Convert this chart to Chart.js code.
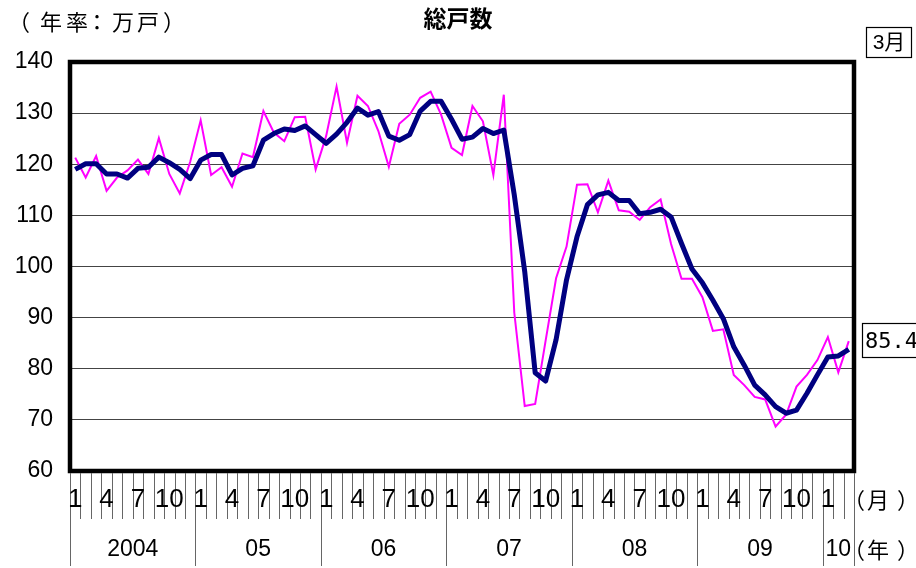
<!DOCTYPE html>
<html>
<head>
<meta charset="utf-8">
<script src="https://cdn.jsdelivr.net/npm/chart.js@4"></script>
<style>
  html, body { margin: 0; padding: 0; background: #fff; }
  #wrap { width: 916px; height: 568px; }
</style>
</head>
<body>
<div id="wrap"><canvas id="housingChart" width="916" height="568"></canvas></div>
<script>
// 月ごとの総戸数（年率：万戸） 2004年1月〜2010年3月
const months = [];
const years = ['2004', '05', '06', '07', '08', '09', '10'];
const monthLabels = ['1', '4', '7', '10'];

// 単月（マゼンタ）
const monthly2004 = [121.3, 117.4, 121.6, 114.8, 117.4, 118.8, 120.9, 118.1, 125.1, 118.1, 114.3, 120.5];
const monthly2005 = [128.6, 117.9, 119.4, 115.6, 122.1, 121.4, 130.4, 126.2, 124.5, 129.2, 129.3, 119.0];
const monthly2006 = [125.5, 135.2, 124.2, 133.4, 131.4, 126.5, 119.5, 127.9, 129.7, 133.0, 134.2, 129.7];
const monthly2007 = [123.2, 121.8, 131.4, 128.4, 117.9, 133.6, 91.0, 72.7, 73.1, 85.5, 97.7, 103.9];
const monthly2008 = [116.0, 116.1, 110.6, 116.8, 111.0, 110.7, 109.1, 111.6, 113.1, 104.4, 97.6, 97.6];
const monthly2009 = [94.0, 87.4, 87.7, 78.8, 76.8, 74.5, 74.0, 68.7, 71.0, 76.5, 78.8, 81.7];
const monthly2010 = [86.2, 79.3, 85.4];

// 3ヶ月移動平均（紺）
const average2004 = [119.0, 120.1, 120.1, 118.1, 118.1, 117.3, 119.2, 119.4, 121.4, 120.3, 119.0, 117.2];
const average2005 = [120.8, 121.9, 121.9, 117.9, 119.2, 119.7, 124.7, 126.0, 126.9, 126.6, 127.5, 125.8];
const average2006 = [124.1, 125.9, 128.2, 131.0, 129.6, 130.3, 125.5, 124.7, 125.8, 130.4, 132.3, 132.3];
const average2007 = [128.8, 124.9, 125.3, 127.0, 126.0, 126.7, 114.0, 99.0, 79.2, 77.6, 85.7, 97.4];
const average2008 = [105.8, 112.1, 114.0, 114.5, 112.9, 112.9, 110.3, 110.6, 111.2, 109.7, 104.5, 99.5];
const average2009 = [96.8, 93.4, 89.8, 84.3, 80.7, 76.8, 74.9, 72.6, 71.3, 71.9, 75.2, 78.8];
const average2010 = [82.3, 82.5, 83.8];

const monthlyValues = [].concat(monthly2004, monthly2005, monthly2006, monthly2007, monthly2008, monthly2009, monthly2010);
const averageValues = [].concat(average2004, average2005, average2006, average2007, average2008, average2009, average2010);

years.forEach((y, yi) => {
    const count = yi === years.length - 1 ? 3 : 12;
    for (let m = 1; m <= count; m++) months.push(y + '/' + m);
});

const lastLabel = '85.4';

// 全角文字を1字ずつ置く
function drawChars(ctx, chars, xs, y) {
    chars.split('').forEach((c, i) => ctx.fillText(c, xs[i], y));
}

// 下の月・年の目盛りと文字
const axisDecor = {
    id: 'axisDecor',
    afterDraw(chart) {
        const ctx = chart.ctx;
        const area = chart.chartArea;
        const x = chart.scales.x;
        const y = chart.scales.y;
        const step = x.getPixelForValue(1) - x.getPixelForValue(0);
        ctx.save();

        // 枠
        ctx.strokeStyle = '#000';
        ctx.lineWidth = 4.5;
        ctx.strokeRect(area.left, area.top, area.right - area.left, area.bottom - area.top);

        // 月の目盛り線
        ctx.strokeStyle = '#666';
        ctx.lineWidth = 1;
        for (let k = 0; k <= months.length; k++) {
            const px = Math.round(x.getPixelForValue(0) - step / 2 + k * step) + 0.5;
            const isYear = k % 12 === 0 || k === months.length;
            ctx.beginPath();
            ctx.moveTo(px, area.bottom + 2);
            ctx.lineTo(px, isYear ? 566 : 519);
            ctx.stroke();
        }

        // 月ラベル
        ctx.fillStyle = '#000';
        ctx.textAlign = 'center';
        ctx.textBaseline = 'middle';
        ctx.font = '26px "Liberation Sans Narrow", "Liberation Sans", Arial, sans-serif';
        months.forEach((lab, i) => {
            const m = lab.split('/')[1];
            if (monthLabels.includes(m)) ctx.fillText(m, x.getPixelForValue(i), 500);
        });

        // 年ラベル
        ctx.font = '23px "Liberation Sans", Arial, sans-serif';
        years.forEach((yr, yi) => {
            const first = yi * 12;
            const last = Math.min(first + 11, months.length - 1);
            const cx = (x.getPixelForValue(first) + x.getPixelForValue(last)) / 2;
            ctx.fillText(yr, cx, 550);
        });

        // 単位
        ctx.font = '22px "Noto Sans CJK JP", sans-serif';
        ctx.textAlign = 'left';
        drawChars(ctx, '（月）', [843, 867, 897], 500);
        drawChars(ctx, '（年）', [843, 867, 897], 550);
        drawChars(ctx, '（年率：万戸）', [8, 40, 66, 86, 112, 137, 163], 22);

        // タイトル
        ctx.textAlign = 'center';
        ctx.font = 'bold 23px "Noto Sans CJK JP", sans-serif';
        ctx.fillText('総戸数', 458, 18);

        // 3月の箱
        ctx.lineWidth = 1.2;
        ctx.strokeStyle = '#000';
        ctx.strokeRect(866.5, 27.5, 45, 30);
        ctx.font = '21px "Liberation Sans", "Noto Sans CJK JP", sans-serif';
        ctx.fillText('3月', 889, 43);

        // 最新値の箱
        const ly = y.getPixelForValue(monthlyValues[monthlyValues.length - 1]);
        ctx.strokeRect(862.5, Math.round(ly) - 17.5, 56, 34);
        ctx.font = '22px "DejaVu Sans Mono", "Liberation Mono", monospace';
        ctx.textAlign = 'left';
        ctx.fillText(lastLabel, 865, ly + 1);

        ctx.restore();
    }
};

new Chart(document.getElementById('housingChart'), {
    type: 'line',
    data: {
        labels: months,
        datasets: [{
            label: '3ヶ月移動平均',
            data: averageValues,
            borderColor: '#000080',
            borderWidth: 5,
            borderJoinStyle: 'round',
            pointRadius: 0,
            tension: 0,
            order: 0
        }, {
            label: '単月',
            data: monthlyValues,
            borderColor: '#ff00ff',
            borderWidth: 2,
            pointRadius: 0,
            tension: 0,
            order: 1
        }]
    },
    options: {
        responsive: false,
        animation: false,
        layout: { padding: { top: 62, right: 62, bottom: 97, left: 0 } },
        plugins: { legend: { display: false }, tooltip: { enabled: false }, title: { display: false } },
        scales: {
            x: { type: 'category', offset: true, display: false },
            y: {
                min: 60,
                max: 140,
                afterFit: s => { s.width = 70; },
                ticks: {
                    stepSize: 10,
                    color: '#000',
                    padding: 17,
                    font: { size: 23, family: '"Liberation Sans", Arial, sans-serif' }
                },
                grid: { color: '#444', lineWidth: 1, drawTicks: false },
                border: { display: false }
            }
        }
    },
    plugins: [axisDecor]
});
</script>
</body>
</html>
